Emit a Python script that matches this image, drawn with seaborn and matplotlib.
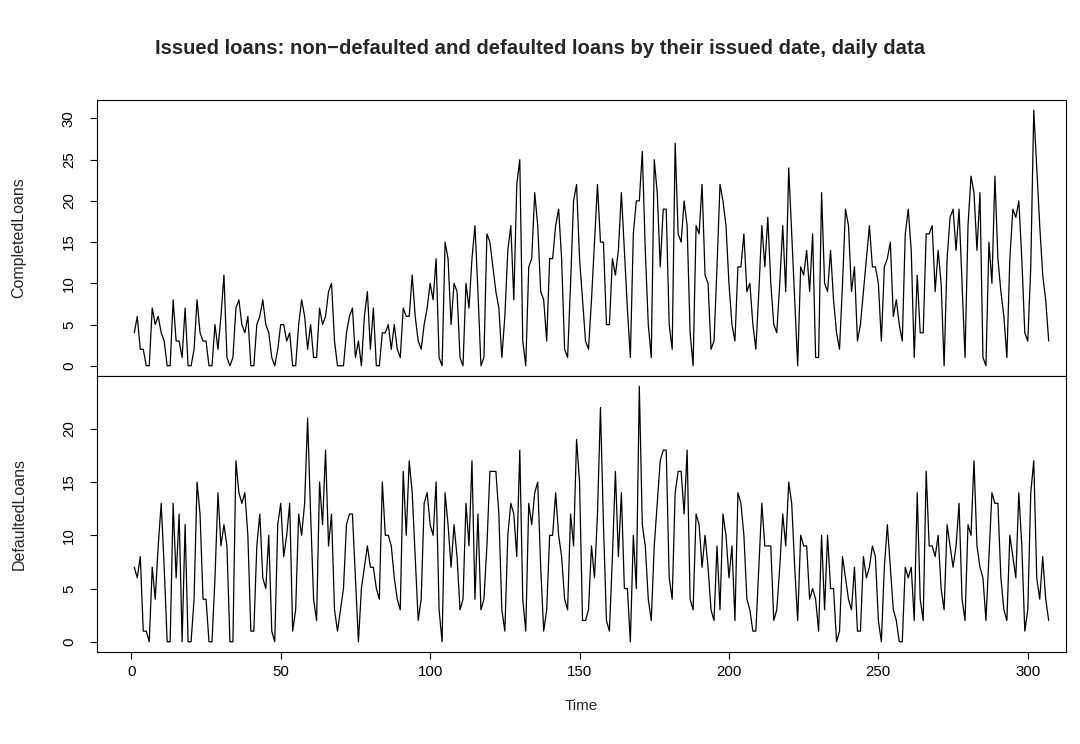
import numpy as np
import pandas as pd
import matplotlib
matplotlib.use("Agg")
import matplotlib.pyplot as plt
import seaborn as sns

completed_loans = [
    4, 6, 2, 2, 0, 0, 7, 5, 6, 4, 3, 0, 0, 8, 3, 3, 1, 7, 0, 0, 2, 8, 4, 3, 3, 0, 0, 5, 2, 6,
    11, 1, 0, 1, 7, 8, 5, 4, 6, 0, 0, 5, 6,
    8, 5, 4, 1, 0, 2, 5, 5, 3, 4, 0, 0, 5, 8, 6, 2, 5, 1, 1, 7, 5, 6, 9, 10, 3, 0, 0, 0, 4, 6,
    7, 1, 3, 0, 6, 9, 2, 7, 0, 0, 4, 4, 5, 2, 5, 2, 1, 7, 6, 6, 11,
    6, 3, 2, 5, 7, 10, 8, 13, 1, 0, 15, 13, 5, 10, 9, 1, 0, 10, 7, 13, 17, 9, 0, 1, 16, 15, 12,
    9, 7, 1, 6, 14, 17, 8, 22, 25, 3, 0, 12, 13, 21, 17, 9, 8, 3, 13, 13, 17, 19, 13, 2, 1, 10,
    20, 22,
    13, 8, 3, 2, 8, 15, 22, 15, 15, 5, 5, 13, 11, 14, 21, 14, 7, 1, 16, 20, 20, 26, 14, 5, 1, 25,
    21, 12, 19, 19, 5, 2, 27, 16, 15, 20, 17, 4, 0, 17, 16, 22, 11, 10, 2, 3, 12, 22, 20, 17, 10,
    5, 3,
    12, 12, 16, 9, 10, 5, 2, 9, 17, 12, 18, 10, 5, 4, 10, 17, 9, 24, 16, 8, 0, 12, 11, 14, 9, 16,
    1, 1, 21, 10, 9, 14, 8, 4, 2, 10, 19, 17, 9, 12, 3, 5, 9, 13, 17, 12, 12, 10, 3, 12, 13, 15, 6,
    8, 5, 3, 16, 19, 14, 1, 11, 4, 4, 16, 16, 17, 9, 14, 10, 0, 13, 18, 19, 14, 19, 10, 1, 17, 23,
    21, 14, 21, 1, 0, 15, 10, 23, 13, 9, 6, 1, 13, 19, 18, 20, 13, 4, 3, 12, 31, 24, 17, 11, 8, 3,
]

defaulted_loans = [
    7, 6, 8, 1, 1, 0, 7, 4, 9, 13, 7, 0, 0, 13, 6, 12, 0, 11, 0, 0, 4, 15, 12, 4, 4, 0, 0, 6, 14,
    9, 11, 9, 0, 0, 17, 14, 13, 14, 10, 1, 1, 9, 12,
    6, 5, 10, 1, 0, 11, 13, 8, 10, 13, 1, 3, 12, 10, 13, 21, 12, 4, 2, 15, 11, 18, 9, 12, 3, 1, 3,
    5, 11, 12, 12, 6, 0, 5, 7, 9, 7, 7, 5, 4, 15, 10, 10, 9, 6, 4, 3, 16, 10, 17, 14, 8, 2,
    4, 13, 14, 11, 10, 15, 3, 0, 14, 11, 7, 11, 8, 3, 4, 13, 9, 17, 4, 12, 3, 4, 9, 16, 16, 16, 12,
    3, 1, 10, 13, 12, 8, 18, 4, 1, 13, 11, 14, 15, 7, 1, 3, 10, 10, 14, 10, 8, 4, 3, 12, 9, 19,
    15, 2, 2, 3, 9, 6, 12, 22, 11, 2, 1, 8, 16, 8, 14, 5, 5, 0, 10, 5, 24, 11, 9, 4, 2, 9, 13, 17,
    18, 18, 6, 4, 14, 16, 16, 12, 18, 4, 3, 12, 11, 7, 10, 7, 3, 2, 9, 3, 12, 10, 6, 9, 2,
    14, 13, 10, 4, 3, 1, 1, 7, 13, 9, 9, 9, 2, 3, 7, 12, 9, 15, 13, 7, 2, 10, 9, 9, 4, 5, 4, 1, 10,
    3, 10, 5, 5, 0, 1, 8, 6, 4, 3, 7, 1, 1, 8, 6, 7, 9, 8, 2, 0, 7, 11, 7, 3,
    2, 0, 0, 7, 6, 7, 2, 14, 4, 2, 16, 9, 9, 8, 10, 5, 3, 11, 9, 7, 9, 13, 4, 2, 11, 10, 17, 9, 7,
    6, 2, 8, 14, 13, 13, 6, 3, 2, 10, 8, 6, 14, 9, 1, 3, 14, 17, 6, 4, 8, 4, 2,
]

x_ticks = [0, 50, 100, 150, 200, 250, 300]
top_y_ticks = [0, 5, 10, 15, 20, 25, 30]
bottom_y_ticks = [0, 5, 10, 15, 20]
title = "Issued loans: non\u2212defaulted and defaulted loans by their issued date, daily data"

n = min(len(completed_loans), len(defaulted_loans))
df = pd.DataFrame({
    "Time": np.arange(1, n + 1),
    "CompletedLoans": completed_loans[:n],
    "DefaultedLoans": defaulted_loans[:n],
})

sns.set_theme(style="ticks")
plt.rcParams['font.family'] = ['Liberation Sans', 'DejaVu Sans']

W, H = 1080, 744
fig = plt.figure(figsize=(W / 100, H / 100), dpi=100)
fig.patch.set_facecolor("white")

left, right = 97, 1066
top1, bot1, bot2 = 100, 376, 652
ax1 = fig.add_axes([left / W, 1 - bot1 / H, (right - left) / W, (bot1 - top1) / H])
ax2 = fig.add_axes([left / W, 1 - bot2 / H, (right - left) / W, (bot2 - bot1) / H], sharex=ax1)

sns.lineplot(data=df, x="Time", y="CompletedLoans", ax=ax1, color="black", linewidth=0.9)
sns.lineplot(data=df, x="Time", y="DefaultedLoans", ax=ax2, color="black", linewidth=0.9)

# x limits: first point at px 134.3, last at px 1048.7
px_per = (1048.7 - 134.3) / (n - 1)
x0 = 1 - (134.3 - left) / px_per
x1 = n + (right - 1048.7) / px_per
ax1.set_xlim(x0, x1)

ax1.set_ylim(-1.24, 32.24)
ax2.set_ylim(-0.96, 24.96)

for ax in (ax1, ax2):
    ax.set_facecolor("white")
    for sp in ax.spines.values():
        sp.set_visible(True)
        sp.set_color("black")
        sp.set_linewidth(0.8)
    ax.tick_params(axis="y", direction="out", length=5.2, width=0.8, colors="black",
                   labelsize=10.8, pad=10)
    ax.grid(False)

ax1.set_yticks(top_y_ticks)
ax2.set_yticks(bottom_y_ticks)
for ax in (ax1, ax2):
    for lab in ax.get_yticklabels():
        lab.set_rotation(90)
        lab.set_va("center")

ax1.tick_params(axis="x", which="both", bottom=False, labelbottom=False)
ax2.set_xticks(x_ticks)
ax2.tick_params(axis="x", direction="out", length=5.2, width=0.8, colors="black",
                labelsize=10.8, pad=4)

ax1.set_xlabel("")
ax2.set_xlabel("Time", fontsize=11)
ax2.xaxis.set_label_coords(0.5, -0.17)
ax1.set_ylabel("CompletedLoans", fontsize=11.5)
ax2.set_ylabel("DefaultedLoans", fontsize=11.5)
ax1.yaxis.set_label_coords(-0.073, 0.5)
ax2.yaxis.set_label_coords(-0.073, 0.5)

fig.text(0.5, 1 - 48 / H, title, ha="center", va="center", fontsize=14.6, fontweight="bold")

fig.savefig("out.png", dpi=100, facecolor="white")
